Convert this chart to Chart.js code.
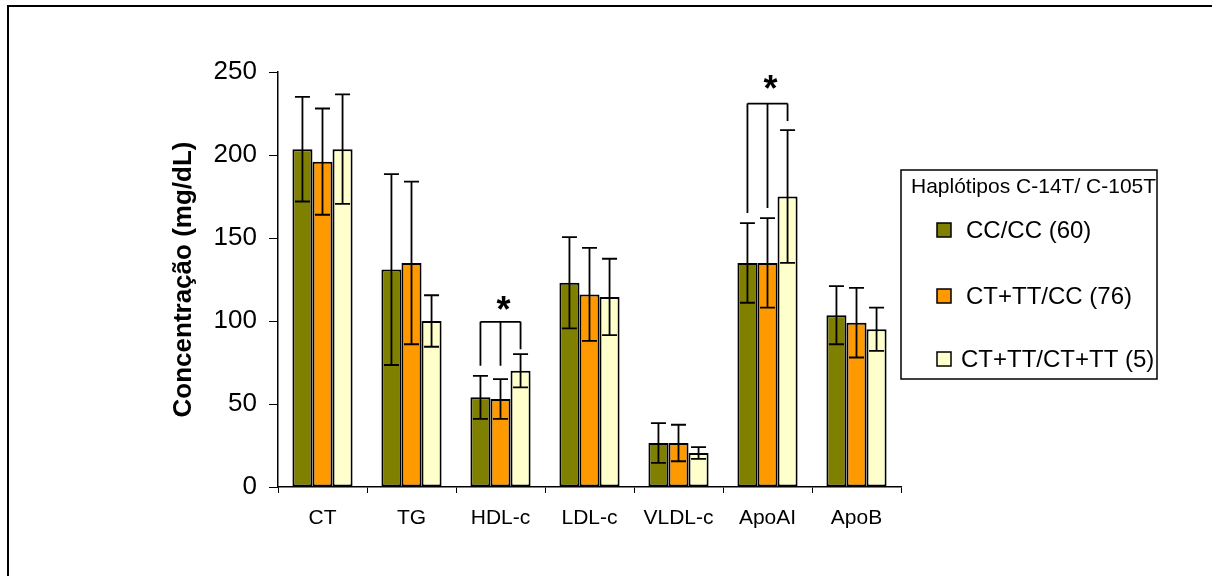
<!DOCTYPE html>
<html>
<head>
<meta charset="utf-8">
<title>Concentração por haplótipo</title>
<script src="https://cdn.jsdelivr.net/npm/chart.js@4"></script>
<style>
    html, body { margin: 0; padding: 0; background: #fff; }
    canvas { display: block; }
</style>
</head>
<body>
<canvas id="chart" width="1212" height="576"></canvas>
<script>
const categories = ["CT", "TG", "HDL-c", "LDL-c", "VLDL-c", "ApoAI", "ApoB"];

const seriesLabels = ["CC/CC (60)", "CT+TT/CC (76)", "CT+TT/CT+TT (5)"];
const ccMeans = [203.5, 131, 54, 123, 26.5, 135, 103.5];
const ccSD    = [31.5, 57.5, 13, 27.5, 12, 24, 17.5];
const ctMeans = [196, 135, 53, 116, 26.5, 135, 99];
const ctSD    = [32, 49, 12, 28, 11, 27, 21];
const ttMeans = [203.5, 100, 70, 114.5, 20.5, 175, 95];
const ttSD    = [33, 15.5, 10, 23, 3.5, 40, 13];

const yTicks = [0, 50, 100, 150, 200, 250];

// significance brackets (values in mg/dL)
const bracketCats = ["HDL-c", "ApoAI"];
const bracketTop  = [99.5, 231];
const bracketLegs = [[73, 73, 83], [165, 168, 220.5]];
const starValues  = [109.5, 243];

const legendTitle = "Haplótipos C-14T/ C-105T";
const FONT = "'Liberation Sans', Arial, sans-serif";
const colors = ["#808000", "#FF9900", "#FFFFCC"];

// ── white background + outer frame ──
const framePlugin = {
    id: "frame",
    beforeDraw(chart) {
        const ctx = chart.ctx;
        ctx.save();
        ctx.fillStyle = "#fff";
        ctx.fillRect(0, 0, chart.width, chart.height);
        ctx.strokeStyle = "#000";
        ctx.lineWidth = 2;
        ctx.strokeRect(8, 6, chart.width + 20, chart.height + 20);
        ctx.restore();
    }
};

// ── error bars, brackets, asterisks ──
const errorBarPlugin = {
    id: "errorBars",
    afterDatasetsDraw(chart) {
        const ctx = chart.ctx;
        const y = chart.scales.y;
        ctx.save();
        ctx.strokeStyle = "#000";
        ctx.lineWidth = 1.8;

        chart.data.datasets.forEach((ds, i) => {
            chart.getDatasetMeta(i).data.forEach((bar, j) => {
                const v = ds.data[j], e = ds.sd[j];
                const top = y.getPixelForValue(v + e);
                const bot = y.getPixelForValue(v - e);
                ctx.beginPath();
                ctx.moveTo(bar.x, top); ctx.lineTo(bar.x, bot);
                ctx.moveTo(bar.x - 7.5, top); ctx.lineTo(bar.x + 7.5, top);
                ctx.moveTo(bar.x - 7.5, bot); ctx.lineTo(bar.x + 7.5, bot);
                ctx.stroke();
            });
        });

        bracketCats.forEach((cat, k) => {
            const c = categories.indexOf(cat);
            const xs = [0, 1, 2].map(i => chart.getDatasetMeta(i).data[c].x);
            const topY = y.getPixelForValue(bracketTop[k]);
            ctx.beginPath();
            ctx.moveTo(xs[0], topY); ctx.lineTo(xs[2], topY);
            xs.forEach((x, i) => {
                ctx.moveTo(x, topY);
                ctx.lineTo(x, y.getPixelForValue(bracketLegs[k][i]));
            });
            ctx.stroke();

            ctx.fillStyle = "#000";
            ctx.font = "bold 36px " + FONT;
            ctx.textAlign = "center";
            ctx.textBaseline = "alphabetic";
            ctx.fillText("*", xs[1] + 3, y.getPixelForValue(starValues[k]) + 17);
        });
        ctx.restore();
    }
};

// ── boxed legend on the right ──
const legendPlugin = {
    id: "boxLegend",
    afterDraw(chart) {
        const ctx = chart.ctx;
        const left = chart.chartArea.right;
        const top = 170;
        ctx.save();
        ctx.strokeStyle = "#000";
        ctx.lineWidth = 1.5;
        ctx.strokeRect(left, top, 256, 209);

        ctx.fillStyle = "#000";
        ctx.textBaseline = "middle";
        ctx.textAlign = "left";
        ctx.font = "21px " + FONT;
        ctx.fillText(legendTitle, left + 10, top + 17);

        const rowY = [60, 126, 189];
        const textDx = [65, 65, 60];
        chart.data.datasets.forEach((ds, i) => {
            const cy = top + rowY[i];
            ctx.fillStyle = ds.backgroundColor;
            ctx.fillRect(left + 36, cy - 7, 14, 14);
            ctx.strokeRect(left + 36, cy - 7, 14, 14);
            ctx.fillStyle = "#000";
            ctx.font = "24px " + FONT;
            ctx.fillText(ds.label, left + textDx[i], cy + 1);
        });
        ctx.restore();
    }
};

const means = [ccMeans, ctMeans, ttMeans];
const sds = [ccSD, ctSD, ttSD];

new Chart(document.getElementById("chart").getContext("2d"), {
    type: "bar",
    data: {
        labels: categories,
        datasets: seriesLabels.map((label, i) => ({
            label: label,
            data: means[i],
            sd: sds[i],
            backgroundColor: colors[i],
            borderColor: "#000",
            borderWidth: 2,
            borderSkipped: false,
            categoryPercentage: 0.676,
            barPercentage: 1.0
        }))
    },
    options: {
        responsive: false,
        animation: false,
        layout: { padding: { left: 160, top: 72, right: 311, bottom: 0 } },
        scales: {
            x: {
                afterFit: s => { s.height = 89; },
                grid: { drawOnChartArea: false, offset: true, tickLength: 6, color: "#000" },
                border: { color: "#000", width: 1.5 },
                ticks: { color: "#000", padding: 13, font: { family: FONT, size: 21 } }
            },
            y: {
                min: 0,
                max: 250,
                afterFit: s => { s.width = 118; },
                afterBuildTicks: s => { s.ticks = yTicks.map(v => ({ value: v })); },
                grid: { drawOnChartArea: false, tickLength: 9, color: "#000" },
                border: { color: "#000", width: 1.5 },
                ticks: { color: "#000", padding: 12, font: { family: FONT, size: 26 } },
                title: {
                    display: true,
                    text: "Concentração (mg/dL)",
                    color: "#000",
                    padding: { top: 8, bottom: 8 },
                    font: { family: FONT, size: 26, weight: "bold" }
                }
            }
        },
        plugins: {
            legend: { display: false },
            tooltip: { enabled: false }
        }
    },
    plugins: [framePlugin, errorBarPlugin, legendPlugin]
});
</script>
</body>
</html>
